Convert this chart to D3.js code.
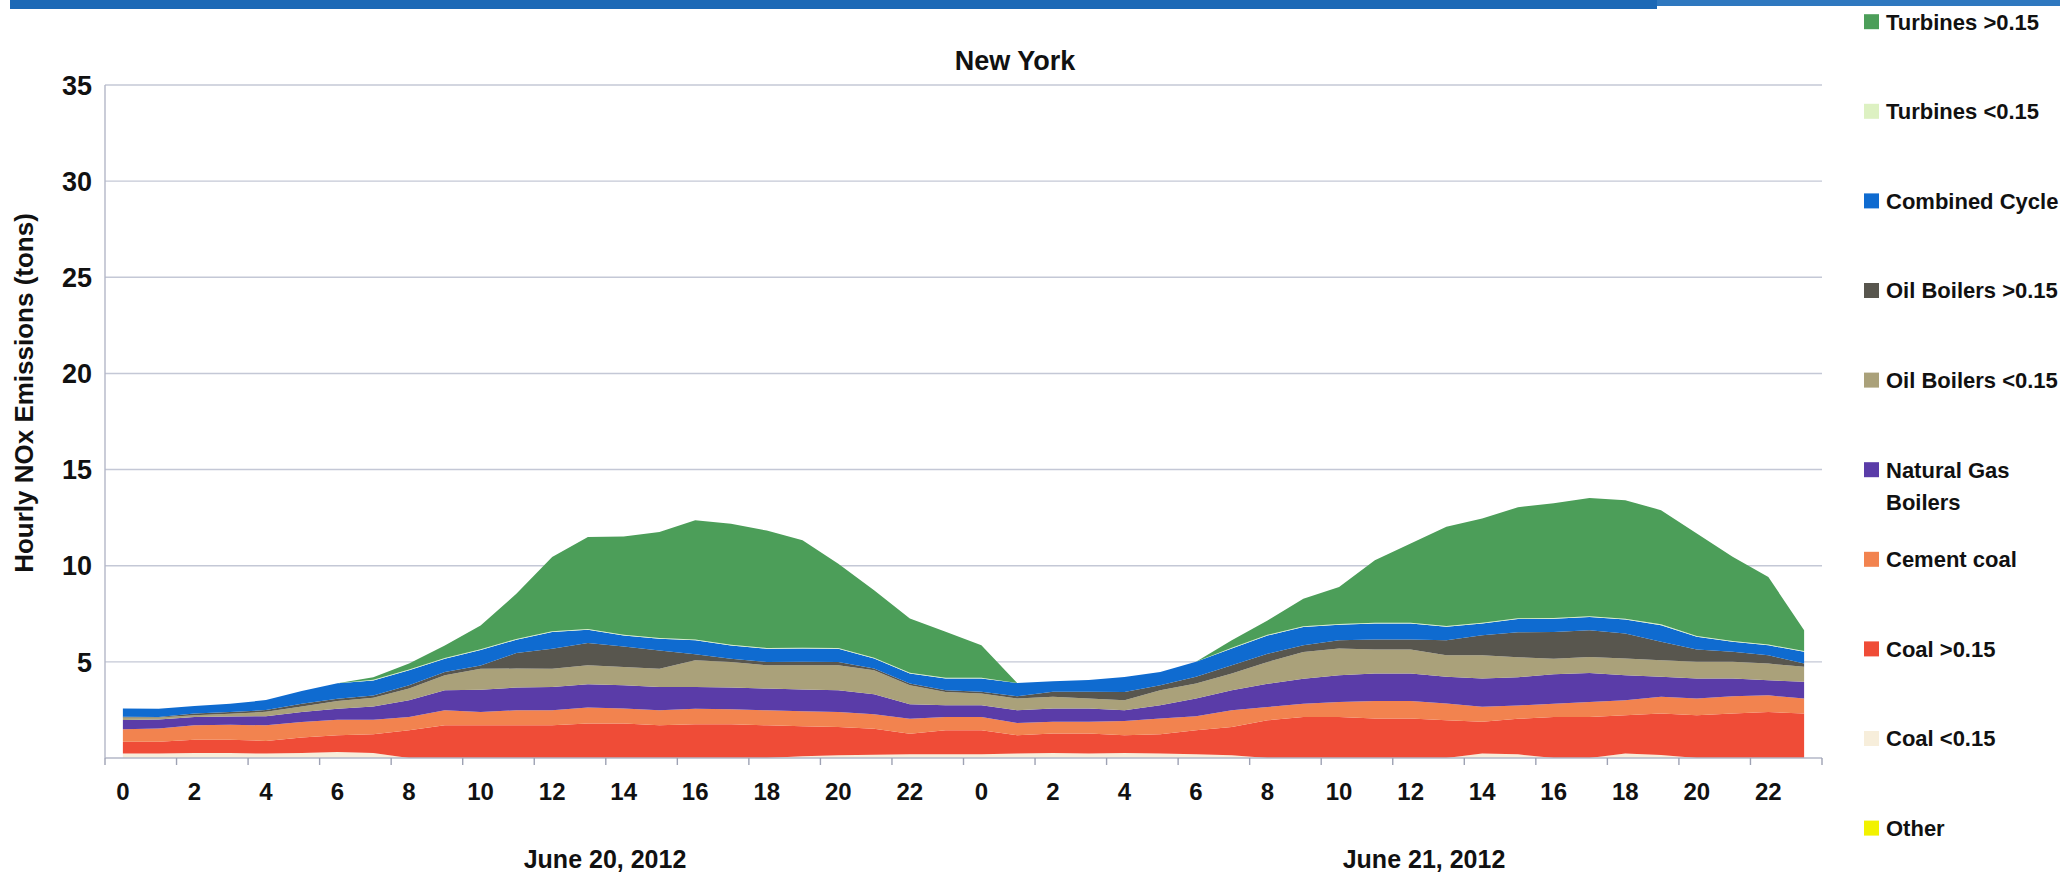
<!DOCTYPE html>
<html>
<head>
<meta charset="utf-8">
<script src="https://cdn.jsdelivr.net/npm/d3@7"></script>
<style>
  html, body { margin: 0; padding: 0; background: #fff; }
  svg { display: block; font-family: "Liberation Sans", Arial, sans-serif; font-weight: bold; }
</style>
</head>
<body>
<svg id="chart" width="2068" height="878"></svg>
<script>
// Hour of day for each of the 48 hourly samples (two days)
const hourLabels = [0,1,2,3,4,5,6,7,8,9,10,11,12,13,14,15,16,17,18,19,20,21,22,23,
                    0,1,2,3,4,5,6,7,8,9,10,11,12,13,14,15,16,17,18,19,20,21,22,23];
const dayLabels = ["June 20, 2012", "June 21, 2012"];
const yTicks = [5, 10, 15, 20, 25, 30, 35];

// Hourly NOx emissions (tons) by source type
const other      = [0,0,0,0,0,0,0,0,0,0,0,0, 0,0,0,0,0,0,0,0,0,0,0,0,
                    0,0,0,0,0,0,0,0,0,0,0,0, 0,0,0,0,0,0,0,0,0,0,0,0];
const coalLow    = [0.23,0.23,0.26,0.26,0.23,0.26,0.31,0.26,0,0,0,0,
                    0,0,0,0,0,0,0,0.09,0.14,0.17,0.19,0.19,
                    0.19,0.23,0.26,0.23,0.26,0.23,0.19,0.14,0,0,0,0,
                    0,0,0.23,0.19,0,0,0.23,0.16,0,0,0,0];
const coalHigh   = [0.61,0.61,0.69,0.69,0.66,0.80,0.87,0.97,1.44,1.70,1.70,1.70,
                    1.70,1.79,1.79,1.70,1.75,1.75,1.70,1.56,1.47,1.35,1.07,1.25,
                    1.25,0.95,1.01,1.04,0.92,1.01,1.25,1.47,1.96,2.13,2.13,2.05,
                    2.05,1.96,1.65,1.85,2.13,2.13,1.99,2.15,2.22,2.31,2.39,2.31];
const cementCoal = [0.66,0.69,0.75,0.78,0.81,0.81,0.81,0.76,0.69,0.78,0.69,0.78,
                    0.78,0.83,0.78,0.78,0.81,0.78,0.78,0.78,0.78,0.75,0.78,0.69,
                    0.69,0.64,0.61,0.61,0.75,0.81,0.73,0.87,0.69,0.69,0.78,0.92,
                    0.92,0.87,0.78,0.69,0.69,0.78,0.78,0.87,0.87,0.90,0.87,0.78];
const gasBoilers = [0.47,0.47,0.43,0.43,0.47,0.52,0.57,0.69,0.87,1.04,1.16,1.18,
                    1.21,1.21,1.21,1.21,1.13,1.13,1.13,1.13,1.13,1.04,0.75,0.61,
                    0.61,0.66,0.69,0.69,0.55,0.69,0.92,1.04,1.21,1.30,1.39,1.42,
                    1.42,1.39,1.47,1.47,1.53,1.51,1.30,1.04,1.04,0.92,0.78,0.87];
const oilLow     = [0.14,0.10,0.09,0.14,0.23,0.29,0.40,0.45,0.61,0.78,1.09,0.99,
                    0.95,0.99,0.95,0.95,1.39,1.33,1.21,1.27,1.30,1.25,0.99,0.69,
                    0.61,0.61,0.61,0.52,0.52,0.78,0.78,0.87,1.13,1.39,1.39,1.25,
                    1.25,1.13,1.21,1.04,0.81,0.83,0.87,0.87,0.87,0.87,0.87,0.78];
const oilHigh    = [0.03,0.03,0.09,0.09,0.09,0.14,0.12,0.12,0.17,0.17,0.17,0.81,
                    1.04,1.16,1.07,0.95,0.31,0.17,0.17,0.17,0.17,0.09,0.09,0.09,
                    0.09,0.12,0.26,0.35,0.43,0.26,0.35,0.43,0.43,0.35,0.43,0.52,
                    0.52,0.78,1.04,1.30,1.39,1.39,1.30,0.95,0.64,0.52,0.43,0.17];
const combined   = [0.43,0.43,0.40,0.43,0.52,0.66,0.81,0.78,0.78,0.69,0.81,0.69,
                    0.87,0.69,0.57,0.61,0.73,0.69,0.69,0.69,0.69,0.52,0.52,0.61,
                    0.69,0.69,0.55,0.61,0.78,0.69,0.78,0.87,0.95,0.95,0.81,0.83,
                    0.83,0.69,0.61,0.69,0.69,0.69,0.73,0.87,0.66,0.52,0.52,0.61];
const turbLow    = [0,0,0,0,0,0,0,0.04,0.04,0.04,0.04,0.04,
                    0.04,0.04,0.04,0.04,0.04,0.04,0.04,0.04,0.04,0.04,0.04,0.04,
                    0.04,0,0,0,0,0,0,0.04,0.04,0.04,0.04,0.04,
                    0.04,0.04,0.04,0.04,0.04,0.04,0.04,0.04,0.04,0.04,0.04,0.04];
const turbHigh   = [0,0,0,0,0,0,0,0.13,0.31,0.65,1.23,2.35,
                    3.86,4.78,5.11,5.51,6.20,6.29,6.11,5.59,4.38,3.51,2.82,2.39,
                    1.69,0,0,0,0,0,0,0.39,0.74,1.43,1.92,3.25,
                    4.12,5.16,5.42,5.77,5.97,6.15,6.16,5.94,5.33,4.38,3.51,1.09];

// Series in stacking order, bottom to top
const seriesKeys   = ["other","coalLow","coalHigh","cementCoal","gasBoilers","oilLow","oilHigh","combined","turbLow","turbHigh"];
const seriesValues = { other, coalLow, coalHigh, cementCoal, gasBoilers, oilLow, oilHigh, combined, turbLow, turbHigh };
const seriesNames  = {
  turbHigh: ["Turbines >0.15"], turbLow: ["Turbines <0.15"], combined: ["Combined Cycle"],
  oilHigh: ["Oil Boilers >0.15"], oilLow: ["Oil Boilers <0.15"], gasBoilers: ["Natural Gas", "Boilers"],
  cementCoal: ["Cement coal"], coalHigh: ["Coal >0.15"], coalLow: ["Coal <0.15"], other: ["Other"]
};
const colors = {
  turbHigh: "#4c9e59", turbLow: "#ddf1c2", combined: "#0f6bd0", oilHigh: "#58564e",
  oilLow: "#aaa17a", gasBoilers: "#5a3ca8", cementCoal: "#f2834f", coalHigh: "#ef4c37",
  coalLow: "#f7eedb", other: "#f2f200"
};

const svg = d3.select("#chart");
const plot = { left: 105, right: 1822, top: 85, bottom: 758 };

// Header bar
svg.append("rect").attr("x", 10).attr("y", 0).attr("width", 1647).attr("height", 9).attr("fill", "#1c69b6");
svg.append("rect").attr("x", 1657).attr("y", 0).attr("width", 403).attr("height", 6).attr("fill", "#2f78bf");

const x = d3.scaleBand().domain(d3.range(hourLabels.length)).range([plot.left, plot.right]);
const cx = i => x(i) + x.bandwidth() / 2;
const y = d3.scaleLinear().domain([0, 35]).range([plot.bottom, plot.top]);

// Gridlines
svg.append("g").selectAll("line").data(yTicks).join("line")
  .attr("x1", plot.left).attr("x2", plot.right)
  .attr("y1", d => y(d)).attr("y2", d => y(d))
  .attr("stroke", "#c4c8d6").attr("stroke-width", 1.4);

// Stacked areas
const rows = hourLabels.map((h, i) => {
  const r = { i };
  seriesKeys.forEach(k => r[k] = seriesValues[k][i]);
  return r;
});
const stacked = d3.stack().keys(seriesKeys)(rows);
const area = d3.area()
  .x(d => cx(d.data.i))
  .y0(d => y(d[0]))
  .y1(d => y(d[1]));
svg.append("g").selectAll("path").data(stacked).join("path")
  .attr("d", area)
  .attr("fill", d => colors[d.key]);

// Axes lines
svg.append("line").attr("x1", plot.left).attr("x2", plot.left)
  .attr("y1", plot.top).attr("y2", plot.bottom).attr("stroke", "#b3b7c7").attr("stroke-width", 1.4);
svg.append("line").attr("x1", plot.left).attr("x2", plot.right)
  .attr("y1", plot.bottom).attr("y2", plot.bottom).attr("stroke", "#b3b7c7").attr("stroke-width", 1.4);

// Category tick marks every two hours
const tickIdx = d3.range(0, hourLabels.length + 1, 2);
svg.append("g").selectAll("line").data(tickIdx).join("line")
  .attr("x1", i => i < hourLabels.length ? x(i) : plot.right)
  .attr("x2", i => i < hourLabels.length ? x(i) : plot.right)
  .attr("y1", plot.bottom).attr("y2", plot.bottom + 7)
  .attr("stroke", "#9ea2b4").attr("stroke-width", 1.4);

// X tick labels
svg.append("g").selectAll("text").data(d3.range(0, hourLabels.length, 2)).join("text")
  .attr("x", i => cx(i)).attr("y", 800)
  .attr("text-anchor", "middle").attr("font-size", 24).attr("fill", "#111")
  .text(i => hourLabels[i]);

// Y tick labels
svg.append("g").selectAll("text").data(yTicks).join("text")
  .attr("x", 92).attr("y", d => y(d)).attr("dy", "0.36em")
  .attr("text-anchor", "end").attr("font-size", 27).attr("fill", "#111")
  .text(d => d);

// Day labels
const dayX = [605, 1424];
svg.append("g").selectAll("text").data(dayLabels).join("text")
  .attr("x", (d, k) => dayX[k]).attr("y", 868)
  .attr("text-anchor", "middle").attr("font-size", 25).attr("fill", "#111")
  .text(d => d);

// Title
svg.append("text").attr("x", 1015).attr("y", 70).attr("text-anchor", "middle")
  .attr("font-size", 27).attr("fill", "#111").text("New York");

// Y axis title
svg.append("text").attr("transform", "translate(33,393) rotate(-90)")
  .attr("text-anchor", "middle").attr("font-size", 26).attr("fill", "#111")
  .text("Hourly NOx Emissions (tons)");

// Legend, top entry is the top of the stack
const legendKeys = seriesKeys.slice().reverse();
const lg = svg.append("g").selectAll("g").data(legendKeys).join("g")
  .attr("transform", (d, k) => `translate(1864,${21.7 + k * 89.6})`);
lg.append("rect").attr("x", 0).attr("y", -7.5).attr("width", 15).attr("height", 15)
  .attr("fill", d => colors[d]);
lg.append("text").attr("x", 22).attr("y", 0).attr("font-size", 22).attr("fill", "#111")
  .selectAll("tspan").data(d => seriesNames[d]).join("tspan")
  .attr("x", 22).attr("dy", (t, j) => j === 0 ? "0.36em" : "32px")
  .text(t => t);
</script>
</body>
</html>
